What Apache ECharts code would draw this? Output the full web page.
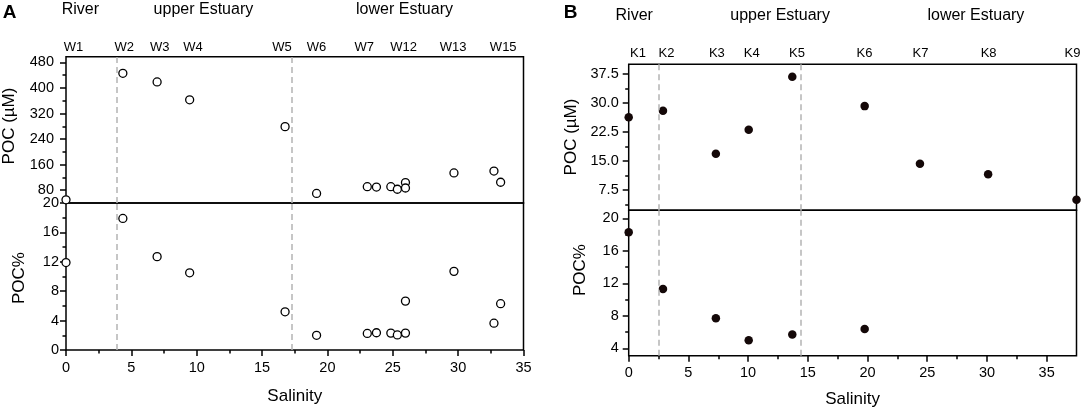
<!DOCTYPE html>
<html>
<head>
<meta charset="utf-8">
<script src="https://cdn.jsdelivr.net/npm/echarts@6/dist/echarts.min.js"></script>
<style>
  html, body { margin: 0; background: #fff; }
  #chart { width: 1084px; height: 410px; }
</style>
</head>
<body>
<div id="chart"></div>
<script>
// ---- panel A (W stations) ----
const stationsA = ['W1', 'W2', 'W3', 'W4', 'W5', 'W6', 'W7', 'W12', 'W13', 'W15'];
const stationSalA = [0.57, 4.46, 7.18, 9.72, 16.52, 19.17, 22.82, 25.83, 29.62, 33.45];
const salinityA = [0, 4.35, 6.97, 9.46, 16.76, 19.17, 23.05, 23.75, 24.85, 25.35, 25.97, 25.97, 29.68, 32.74, 33.25];
const pocA = [50, 446, 419, 363, 279, 70, 91, 90, 91, 83, 104, 87, 134, 140, 105];
const pocPctA = [11.9, 17.9, 12.7, 10.5, 5.2, 2.0, 2.25, 2.35, 2.3, 2.05, 6.65, 2.3, 10.7, 3.65, 6.3];
const boundsA = [3.85, 17.3];

// ---- panel B (K stations) ----
const stationsB = ['K1', 'K2', 'K3', 'K4', 'K5', 'K6', 'K7', 'K8', 'K9'];
const stationSalB = [0.78, 3.16, 7.38, 10.31, 14.1, 19.75, 24.44, 30.14, 37.17];
const salinityB = [0, 2.87, 7.3, 10.05, 13.7, 19.76, 24.39, 30.1, 37.5];
const pocB = [26.3, 28.0, 16.9, 23.1, 36.8, 29.2, 14.3, 11.6, 5.0];
const salinityPctB = [0, 2.87, 7.3, 10.05, 13.7, 19.76];
const pocPctB = [18.3, 11.3, 7.7, 5.0, 5.7, 6.4];
const boundsB = [2.5, 14.4];

const regions = ['River', 'upper Estuary', 'lower Estuary'];

// ticks
const salTicks = [0, 5, 10, 15, 20, 25, 30, 35];
const salMinor = [2.5, 7.5, 12.5, 17.5, 22.5, 27.5, 32.5];
const pocTicksA = [80, 160, 240, 320, 400, 480];
const pocMinorA = [120, 200, 280, 360, 440];
const pctTicksA = [0, 4, 8, 12, 16, 20];
const pctMinorA = [2, 6, 10, 14, 18];
const pocTicksB = [7.5, 15, 22.5, 30, 37.5];
const pocMinorB = [3.75, 11.25, 18.75, 26.25, 33.75];
const pctTicksB = [4, 8, 12, 16, 20];
const pctMinorB = [6, 10, 14, 18];

const FONT = 'Liberation Sans, Arial, sans-serif';

function axis(o) {
  return Object.assign({
    type: 'value',
    axisLine: { show: false },
    splitLine: { show: false },
    axisTick: { show: false },
    axisLabel: { show: false }
  }, o);
}
function ticks(values, len) {
  return { show: true, customValues: values, length: len, lineStyle: { color: '#000', width: 1.5 } };
}
function labels(values, margin, fmt) {
  return { show: true, customValues: values, margin: margin, fontSize: 14.5, color: '#000', fontFamily: FONT, formatter: fmt };
}
function stationLabels(names, pos, margin) {
  return {
    show: true, customValues: pos, margin: margin, fontSize: 13, color: '#000', fontFamily: FONT,
    formatter: v => names[pos.findIndex(s => Math.abs(s - v) < 1e-6)]
  };
}
function dashed(bounds) {
  return {
    silent: true, symbol: ['none', 'none'], label: { show: false },
    lineStyle: { color: '#b4b4b4', type: [6, 4], width: 1.5 },
    data: bounds.map(v => ({ xAxis: v }))
  };
}
const gridBox = { show: true, borderColor: '#000', borderWidth: 1.5, backgroundColor: 'transparent', containLabel: false, outerBoundsMode: 'none' };
const openCircle = { color: '#fff', borderColor: '#000', borderWidth: 1.3, opacity: 1 };
const filledCircle = { color: '#140808', opacity: 1 };

const chart = echarts.init(document.getElementById('chart'));

const option = {
  animation: false,
  textStyle: { fontFamily: FONT },
  grid: [
    Object.assign({ left: 66, top: 56.7, width: 457.5, height: 146.3 }, gridBox),
    Object.assign({ left: 66, top: 203, width: 457.5, height: 147 }, gridBox),
    Object.assign({ left: 628.7, top: 64.3, width: 447.8, height: 146 }, gridBox),
    Object.assign({ left: 628.7, top: 210.3, width: 447.8, height: 145.4 }, gridBox)
  ],
  xAxis: [
    axis({ gridIndex: 0, position: 'top', min: 0, max: 35, axisLabel: stationLabels(stationsA, stationSalA, 3) }),
    axis({ gridIndex: 1, position: 'bottom', min: 0, max: 35, axisTick: ticks(salTicks, 6), axisLabel: labels(salTicks, 10),
      name: 'Salinity', nameLocation: 'middle', nameGap: 38, nameTextStyle: { fontSize: 17, color: '#000', fontFamily: FONT } }),
    axis({ gridIndex: 1, position: 'bottom', min: 0, max: 35, axisTick: ticks(salMinor, 3.5) }),
    axis({ gridIndex: 2, position: 'top', min: 0, max: 37.5, axisLabel: stationLabels(stationsB, stationSalB, 4.5) }),
    axis({ gridIndex: 3, position: 'bottom', min: 0, max: 37.5, axisTick: ticks(salTicks, 6), axisLabel: labels(salTicks, 10),
      name: 'Salinity', nameLocation: 'middle', nameGap: 35, nameTextStyle: { fontSize: 17, color: '#000', fontFamily: FONT } }),
    axis({ gridIndex: 3, position: 'bottom', min: 0, max: 37.5, axisTick: ticks(salMinor, 3.5) })
  ],
  yAxis: [
    axis({ gridIndex: 0, position: 'left', min: 40, max: 498, axisTick: ticks(pocTicksA, 6), axisLabel: labels(pocTicksA, 12) }),
    axis({ gridIndex: 0, position: 'left', min: 40, max: 498, axisTick: ticks(pocMinorA, 3.5) }),
    axis({ gridIndex: 1, position: 'left', min: 0, max: 20, axisTick: ticks(pctTicksA, 6), axisLabel: labels(pctTicksA, 7) }),
    axis({ gridIndex: 1, position: 'left', min: 0, max: 20, axisTick: ticks(pctMinorA, 3.5) }),
    axis({ gridIndex: 2, position: 'left', min: 2.3, max: 40, axisTick: ticks(pocTicksB, 6), axisLabel: labels(pocTicksB, 10, v => v.toFixed(1)) }),
    axis({ gridIndex: 2, position: 'left', min: 2.3, max: 40, axisTick: ticks(pocMinorB, 3.5) }),
    axis({ gridIndex: 3, position: 'left', min: 3.1, max: 21, axisTick: ticks(pctTicksB, 6), axisLabel: labels(pctTicksB, 10) }),
    axis({ gridIndex: 3, position: 'left', min: 3.1, max: 21, axisTick: ticks(pctMinorB, 3.5) })
  ],
  series: [
    {
      type: 'scatter', xAxisIndex: 0, yAxisIndex: 0, clip: false, symbolSize: 8,
      itemStyle: openCircle,
      data: salinityA.map((s, i) => [s, pocA[i]]),
      markLine: dashed(boundsA)
    },
    {
      type: 'scatter', xAxisIndex: 1, yAxisIndex: 2, clip: false, symbolSize: 8,
      itemStyle: openCircle,
      data: salinityA.map((s, i) => [s, pocPctA[i]]),
      markLine: dashed(boundsA)
    },
    {
      type: 'scatter', xAxisIndex: 3, yAxisIndex: 4, clip: false, symbolSize: 8.5,
      itemStyle: filledCircle,
      data: salinityB.map((s, i) => [s, pocB[i]]),
      markLine: dashed(boundsB)
    },
    {
      type: 'scatter', xAxisIndex: 4, yAxisIndex: 6, clip: false, symbolSize: 8.5,
      itemStyle: filledCircle,
      data: salinityPctB.map((s, i) => [s, pocPctB[i]]),
      markLine: dashed(boundsB)
    }
  ],
  graphic: [
    { type: 'text', x: 9.5, y: 13, style: { text: 'A', font: 'bold 19px ' + FONT, fill: '#000', textAlign: 'center', textVerticalAlign: 'middle' } },
    { type: 'text', x: 570.5, y: 13, style: { text: 'B', font: 'bold 19px ' + FONT, fill: '#000', textAlign: 'center', textVerticalAlign: 'middle' } },
    { type: 'text', x: 80.4, y: 10, style: { text: regions[0], font: '16px ' + FONT, fill: '#000', textAlign: 'center', textVerticalAlign: 'middle' } },
    { type: 'text', x: 203.4, y: 10, style: { text: regions[1], font: '16px ' + FONT, fill: '#000', textAlign: 'center', textVerticalAlign: 'middle' } },
    { type: 'text', x: 404.5, y: 10, style: { text: regions[2], font: '16px ' + FONT, fill: '#000', textAlign: 'center', textVerticalAlign: 'middle' } },
    { type: 'text', x: 634.2, y: 16, style: { text: regions[0], font: '16px ' + FONT, fill: '#000', textAlign: 'center', textVerticalAlign: 'middle' } },
    { type: 'text', x: 780.1, y: 16, style: { text: regions[1], font: '16px ' + FONT, fill: '#000', textAlign: 'center', textVerticalAlign: 'middle' } },
    { type: 'text', x: 975.9, y: 16, style: { text: regions[2], font: '16px ' + FONT, fill: '#000', textAlign: 'center', textVerticalAlign: 'middle' } },
    // y axis titles
    { type: 'text', x: 9, y: 126, rotation: Math.PI / 2, style: { text: 'POC (µM)', font: '17px ' + FONT, fill: '#000', textAlign: 'center', textVerticalAlign: 'middle' } },
    { type: 'text', x: 19, y: 278, rotation: Math.PI / 2, style: { text: 'POC%', font: '17px ' + FONT, fill: '#000', textAlign: 'center', textVerticalAlign: 'middle' } },
    { type: 'text', x: 571, y: 137, rotation: Math.PI / 2, style: { text: 'POC (µM)', font: '17px ' + FONT, fill: '#000', textAlign: 'center', textVerticalAlign: 'middle' } },
    { type: 'text', x: 580, y: 270, rotation: Math.PI / 2, style: { text: 'POC%', font: '17px ' + FONT, fill: '#000', textAlign: 'center', textVerticalAlign: 'middle' } }
  ]
};

chart.setOption(option);
</script>
</body>
</html>
